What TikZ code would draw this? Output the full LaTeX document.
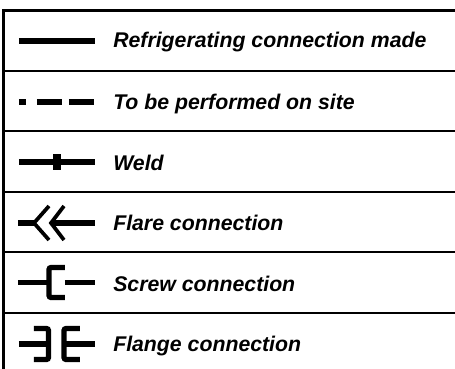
\documentclass[tikz,border=0pt]{standalone}
\usepackage{fontspec}
\setmainfont{Liberation Sans}
\tikzset{
  x=0.75pt,y=-0.75pt,
  rule/.style={line width=2.2pt,black},
  sample/.style={line width=4.5pt,black},
  thinsample/.style={line width=4.2pt,black},
  joint/.style={line width=3.9pt,black,rounded corners=1.5pt},
  label/.style={anchor=base west,inner sep=0pt,font=\bfseries\itshape\fontsize{15.95pt}{18pt}\selectfont}
}
\begin{document}
\begin{tikzpicture}
\useasboundingbox (0,0) rectangle (455,369);
% frame
\draw[rule] (3.3,369) -- (3.3,10.5) -- (455,10.5);
\foreach \y in {71,131,192,252,313} \draw[rule] (3.3,\y) -- (455,\y);
% labels
\node[label] (a) at (113,47.7) {Refrigerating connection made};
\node[label] (b) at (113,109) {To be performed on site};
\node[label] (c) at (113,170) {Weld};
\node[label] (d) at (113,230) {Flare connection};
\node[label] (e) at (113,291) {Screw connection};
\node[label] (f) at (113,351.5) {Flange connection};
% solid
\draw[sample] (19,41) -- (95,41);
% dashed
\draw[sample] (19,102) -- (26,102) (37,102) -- (62,102) (69,102) -- (94,102);
% weld
\draw[sample] (19,162) -- (95,162);
\draw[line width=6pt] (57,154) -- (57,170);
% flare
\draw[thinsample] (18,223) -- (34,223) (53,223) -- (95,223);
\draw[line width=2.8pt] (49,206) -- (34,223) -- (49,240);
\draw[line width=2.8pt] (64,206) -- (51,223) -- (64,240);
% screw
\draw[thinsample] (18,282.5) -- (48,282.5) (65,282.5) -- (95,282.5);
\draw[joint] (65,267.5) -- (49,267.5) -- (49,297.5) -- (65,297.5);
% flange
\draw[thinsample] (19,344) -- (49,344) (64,344) -- (95,344);
\draw[joint] (34,328.5) -- (48.5,328.5) -- (48.5,359.5) -- (34,359.5);
\draw[joint] (80,328.5) -- (64,328.5) -- (64,359.5) -- (80,359.5);
\end{tikzpicture}
\end{document}
